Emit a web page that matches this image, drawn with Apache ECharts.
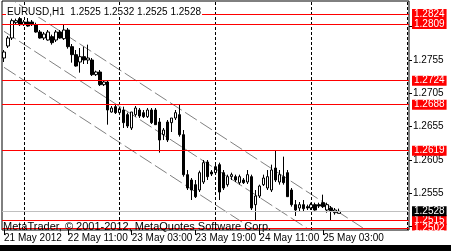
<!DOCTYPE html>
<html><head><meta charset="utf-8">
<script src="https://cdn.jsdelivr.net/npm/echarts@6/dist/echarts.min.js"></script>
<style>html,body{margin:0;padding:0;background:#fff;overflow:hidden}#c{width:451px;height:251px}</style>
</head><body><div id="c"></div><script>
// ---- data (EURUSD H1, 21-25 May 2012) ----
const opens  = [1.2758,1.2776,1.2788,1.2811,1.2817,1.2808,1.2812,1.2812,1.2808,1.2797,1.2788,1.2785,1.2790,1.2785,1.2797,1.2787,1.2800,1.2775,1.2763,1.2752,1.2760,1.2755,1.2755,1.2733,1.2737,1.2718,1.2722,1.2677,1.2685,1.2676,1.2680,1.2673,1.2653,1.2673,1.2680,1.2676,1.2670,1.2680,1.2680,1.2662,1.2643,1.2662,1.2661,1.2668,1.2673,1.2643,1.2583,1.2575,1.2568,1.2560,1.2572,1.2602,1.2587,1.2586,1.2598,1.2586,1.2568,1.2580,1.2580,1.2571,1.2575,1.2572,1.2580,1.2538,1.2551,1.2568,1.2563,1.2560,1.2593,1.2572,1.2580,1.2586,1.2560,1.2538,1.2533,1.2538,1.2535,1.2533,1.2538,1.2538,1.2541,1.2530,1.2533,1.2526,1.2525];
const highs  = [1.2770,1.2791,1.2817,1.2817,1.2821,1.2815,1.2818,1.2815,1.2811,1.2800,1.2797,1.2800,1.2793,1.2800,1.2800,1.2809,1.2803,1.2779,1.2770,1.2773,1.2775,1.2778,1.2758,1.2739,1.2740,1.2725,1.2725,1.2686,1.2688,1.2683,1.2685,1.2676,1.2677,1.2686,1.2683,1.2680,1.2683,1.2683,1.2683,1.2668,1.2653,1.2665,1.2668,1.2680,1.2688,1.2650,1.2590,1.2578,1.2575,1.2589,1.2605,1.2605,1.2590,1.2598,1.2601,1.2590,1.2583,1.2586,1.2583,1.2583,1.2578,1.2590,1.2583,1.2560,1.2568,1.2583,1.2590,1.2598,1.2619,1.2590,1.2610,1.2590,1.2563,1.2545,1.2542,1.2545,1.2538,1.2541,1.2541,1.2541,1.2553,1.2541,1.2536,1.2533,1.2532];
const lows   = [1.2752,1.2773,1.2785,1.2808,1.2806,1.2806,1.2805,1.2806,1.2796,1.2787,1.2785,1.2784,1.2778,1.2782,1.2787,1.2785,1.2772,1.2751,1.2745,1.2736,1.2749,1.2749,1.2731,1.2731,1.2716,1.2716,1.2658,1.2676,1.2674,1.2674,1.2653,1.2653,1.2650,1.2670,1.2668,1.2668,1.2668,1.2659,1.2658,1.2616,1.2635,1.2632,1.2647,1.2665,1.2640,1.2580,1.2560,1.2545,1.2548,1.2557,1.2569,1.2575,1.2581,1.2583,1.2545,1.2560,1.2565,1.2575,1.2572,1.2568,1.2569,1.2569,1.2530,1.2515,1.2548,1.2566,1.2560,1.2557,1.2572,1.2568,1.2568,1.2550,1.2535,1.2521,1.2527,1.2527,1.2530,1.2530,1.2529,1.2533,1.2533,1.2526,1.2515,1.2523,1.2525];
const closes = [1.2767,1.2788,1.2814,1.2814,1.2808,1.2812,1.2806,1.2808,1.2797,1.2788,1.2794,1.2797,1.2781,1.2797,1.2788,1.2800,1.2775,1.2763,1.2746,1.2760,1.2755,1.2758,1.2733,1.2737,1.2718,1.2722,1.2680,1.2683,1.2676,1.2682,1.2661,1.2656,1.2677,1.2683,1.2671,1.2670,1.2680,1.2661,1.2658,1.2635,1.2650,1.2635,1.2668,1.2676,1.2643,1.2583,1.2563,1.2560,1.2550,1.2586,1.2601,1.2580,1.2584,1.2595,1.2557,1.2563,1.2580,1.2583,1.2575,1.2580,1.2571,1.2583,1.2533,1.2551,1.2566,1.2578,1.2580,1.2590,1.2575,1.2583,1.2571,1.2550,1.2538,1.2530,1.2538,1.2532,1.2533,1.2538,1.2530,1.2536,1.2535,1.2538,1.2529,1.2530,1.2528];
const slotCount = 102;                       // bar slots incl. chart shift
const timeTickBars   = [0,16,32,48,64,80];
const timeTickLabels = ['21 May 2012','22 May 11:00','23 May 03:00','23 May 19:00','24 May 11:00','25 May 03:00'];
const daySeparatorBars = [5,29,53,77,101];
const priceTickLabels = [1.2505,1.2555,1.2605,1.2655,1.2705,1.2755,1.2805];
const redLevels = [1.2824,1.2809,1.2724,1.2688,1.2619,1.2515,1.2502];
const bidLevel = 1.2528;
const channelBars   = [0,100];
const channelUpper  = [1.2853,1.2464];
const channelMiddle = [1.2798,1.2409];
const channelLower  = [1.2744,1.2355];
const headerText = 'EURUSD,H1  1.2525 1.2532 1.2525 1.2528';
const copyrightText = 'MetaTrader, \u00a9 2001-2012, MetaQuotes Software Corp.';

const FONT = '"Liberation Sans",Arial,sans-serif';
const slots = Array.from({length: slotCount}, (_, i) => String(i));
const candles = opens.map((o, i) => [o, closes[i], lows[i], highs[i]]);
const chLine = (arr) => channelBars.map((b, k) => [b, arr[k]]);
const chStyle = {color:'#808080', width:1, type:[14,4]};
const boxLabel = (v, bg) => ({show:true, position:'end', distance:3, formatter:v.toFixed(4), color:'#fff',
  backgroundColor:bg, padding:[1,2,0,2], fontSize:10, lineHeight:9, fontFamily:FONT});

const chart = echarts.init(document.getElementById('c'), null, {renderer:'canvas'});
chart.setOption({
  animation:false,
  backgroundColor:'#fff',
  title:{text:headerText, left:6, top:7, padding:[0,1], backgroundColor:'#fff',
    textStyle:{fontSize:10, fontWeight:'normal', color:'#000', fontFamily:FONT}},
  grid:{left:2, top:1, width:407, height:229, show:true, borderColor:'#000', borderWidth:1, containLabel:false},
  xAxis:{type:'category', data:slots, boundaryGap:true,
    axisLine:{show:false}, splitLine:{show:false},
    axisTick:{show:true, alignWithLabel:true, interval:(i)=>timeTickBars.includes(i), length:5, lineStyle:{color:'#000'}},
    axisLabel:{interval:(i)=>timeTickBars.includes(i), formatter:(v,i)=>timeTickLabels[timeTickBars.indexOf(i)],
      align:'left', margin:3, color:'#000', fontSize:10, fontFamily:FONT}},
  yAxis:{type:'value', position:'right', min:1.2500, max:1.28435,
    splitLine:{show:false}, axisLine:{show:false},
    axisTick:{show:true, customValues:priceTickLabels, length:3, lineStyle:{color:'#000'}},
    axisLabel:{customValues:priceTickLabels, formatter:(v)=>v.toFixed(4), margin:4, color:'#000', fontSize:10, fontFamily:FONT}},
  series:[
    {type:'line', name:'sep', data:[], silent:true,
      markLine:{silent:true, symbol:'none', precision:0, label:{show:false},
        lineStyle:{color:'#000', width:1, type:[3,2]},
        data:daySeparatorBars.map(b=>({xAxis:b}))}},
    {type:'line', name:'levels', data:[], silent:true, z:3,
      markLine:{silent:true, symbol:'none', precision:4,
        data:[
          ...redLevels.map(v=>({yAxis:v, lineStyle:{color:'#ff0000', width:1, type:'solid'}, label:boxLabel(v,'#ff0000')})),
          {yAxis:bidLevel, lineStyle:{color:'#c0c0c0', width:1, type:'solid'}, label:boxLabel(bidLevel,'#000')}
        ]}},
    {type:'line', data:chLine(channelUpper), symbol:'none', lineStyle:chStyle, clip:true, silent:true, z:2},
    {type:'line', data:chLine(channelMiddle), symbol:'none', lineStyle:chStyle, clip:true, silent:true, z:2},
    {type:'line', data:chLine(channelLower), symbol:'none', lineStyle:chStyle, clip:true, silent:true, z:2},
    {type:'candlestick', data:candles, barWidth:3, z:4, silent:true,
      itemStyle:{color:'#fff', color0:'#000', borderColor:'#000', borderColor0:'#000', borderColorDoji:'#000', borderWidth:1}}
  ],
  graphic:[
    {type:'rect', left:410, top:230.5, shape:{width:41, height:15}, style:{fill:'#fff'}, z:100},
    {type:'rect', left:0, top:245, shape:{width:451, height:6}, style:{fill:'#000'}, z:100},
    {type:'text', left:3, top:221, z:50, style:{text:copyrightText, fill:'#000', font:'11px "Liberation Sans",Arial,sans-serif'}}
  ]
});
</script></body></html>
